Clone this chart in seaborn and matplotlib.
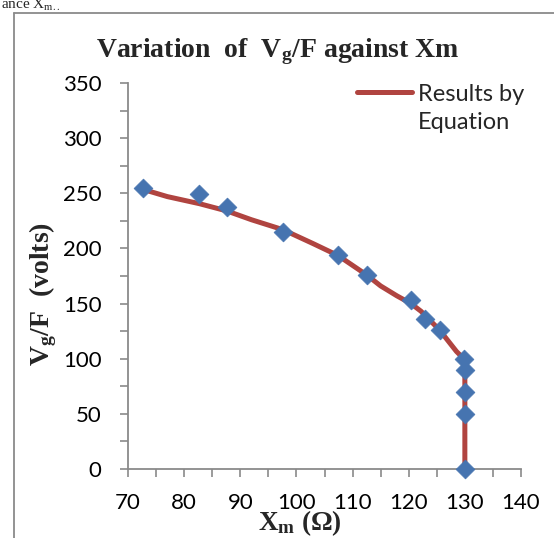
import matplotlib
matplotlib.use("Agg")
import numpy as np
import matplotlib.pyplot as plt
import seaborn as sns
import pandas as pd
from matplotlib.lines import Line2D
from matplotlib.ticker import MultipleLocator
from matplotlib.legend_handler import HandlerLine2D

# ---- data ----
meas_x = [72.7, 82.7, 87.6, 97.6, 107.4, 112.5, 120.4, 122.9, 125.5, 129.8, 130.0, 130.0, 130.0, 130.0]
meas_y = [255, 249, 238, 215, 194, 176, 153, 136, 126, 100, 90, 70, 50, 0]

eq_x = [72.7, 77, 82.7, 87.6, 92, 97.6, 103.0, 107.4, 112.5, 115, 117.9, 120.4, 122.2, 125.5, 128.5, 129.8, 130, 130]
eq_y = [253.5, 247, 240.6, 234, 226, 217, 204.3, 193.6, 176, 166, 157, 150, 143, 126, 106.6, 100, 90, 0]

x_ticks = [70, 80, 90, 100, 110, 120, 130, 140]
y_ticks = [0, 50, 100, 150, 200, 250, 300, 350]

title = "Variation  of  V$_\\mathbf{g}$/F against Xm"
xlabel = "X$_\\mathbf{m}$ (\u03a9)"
ylabel = "V$_\\mathbf{g}$/F  (volts)"
legend_label = "Results by\nEquation"

sns.set_theme(style="white")
plt.rcParams["font.family"] = ["Lato", "DejaVu Sans"]
plt.rcParams["mathtext.fontset"] = "custom"
plt.rcParams["mathtext.rm"] = "Liberation Serif"
plt.rcParams["mathtext.bf"] = "Liberation Serif:bold"
plt.rcParams["mathtext.it"] = "Liberation Serif:italic"

W, H = 554, 538
fig = plt.figure(figsize=(W / 100, H / 100), dpi=100)
fig.patch.set_facecolor("white")
ax = fig.add_axes([128 / W, 1 - 469 / H, (521 - 128) / W, (469 - 83) / H])

line_color = "#B04440"
mark_color = "#4674B0"
axis_gray = "#8a8a8a"

eq_df = pd.DataFrame({"x": eq_x, "y": eq_y})
meas_df = pd.DataFrame({"x": meas_x, "y": meas_y})

sns.lineplot(data=eq_df, x="x", y="y", sort=False, estimator=None, ax=ax,
             color=line_color, linewidth=3.6, zorder=2, label=legend_label,
             clip_on=False)
sns.scatterplot(data=meas_df, x="x", y="y", ax=ax, marker="D", s=92,
                color=mark_color, edgecolor=mark_color, linewidth=0.5,
                zorder=3, clip_on=False)

ax.set_xlim(70, 140)
ax.set_ylim(0, 350)
ax.set_xticks(x_ticks)
ax.set_yticks(y_ticks)
ax.xaxis.set_minor_locator(MultipleLocator(5))
ax.yaxis.set_minor_locator(MultipleLocator(25))
ax.set_xlabel("")
ax.set_ylabel("")
for s in ["top", "right"]:
    ax.spines[s].set_visible(False)
for s in ["left", "bottom"]:
    ax.spines[s].set_color(axis_gray)
    ax.spines[s].set_linewidth(1.3)
ax.tick_params(axis="both", which="both", direction="out", length=6,
               width=1.2, color=axis_gray, labelcolor="black", labelsize=16)
ax.tick_params(axis="y", which="both", pad=13, left=True)
ax.tick_params(axis="x", which="both", pad=11, bottom=True)
ax.grid(False)


class TopLineHandler(HandlerLine2D):
    """Place the legend line beside the first text line."""
    def __init__(self, offset, **kw):
        super().__init__(**kw)
        self.offset = offset

    def create_artists(self, legend, orig_handle, xdescent, ydescent, width,
                       height, fontsize, trans):
        arts = super().create_artists(legend, orig_handle, xdescent, ydescent,
                                      width, height, fontsize, trans)
        for a in arts:
            a.set_ydata(np.asarray(a.get_ydata(), dtype=float) + self.offset)
        return arts


handles, labels = ax.get_legend_handles_labels()
leg = ax.legend(handles, labels, loc="upper left",
                bbox_to_anchor=(357 / W, 1 - 84 / H),
                bbox_transform=fig.transFigure, frameon=False, fontsize=17,
                borderpad=0, borderaxespad=0, handlelength=2.35,
                handletextpad=0.22,
                handler_map={Line2D: TopLineHandler(offset=11.9)})
for t in leg.get_texts():
    t.set_linespacing(1.4)

serif = "Liberation Serif"
fig.text(278 / W, 1 - 57 / H, title, ha="center", va="baseline",
         fontsize=20, fontweight="bold", family=serif)
fig.text(43 / W, 1 - 294 / H, ylabel, ha="center", va="center", rotation=90,
         fontsize=20, fontweight="bold", family=serif)
fig.text(300 / W, 1 - 530 / H, xlabel, ha="center", va="baseline",
         fontsize=19.5, fontweight="bold", family=serif)
fig.text(1 / W, 1 - 9 / H, "ance X$_\\mathrm{m..}$", ha="left", va="baseline",
         fontsize=11, family=serif)

# document frame around the chart
fig.add_artist(Line2D([13.5 / W, 13.5 / W], [0, 1 - 12.5 / H],
                      transform=fig.transFigure, color=axis_gray, lw=1.3))
fig.add_artist(Line2D([13.5 / W, 1], [1 - 12.5 / H, 1 - 12.5 / H],
                      transform=fig.transFigure, color=axis_gray, lw=1.3))

fig.savefig("out.png", dpi=100)
